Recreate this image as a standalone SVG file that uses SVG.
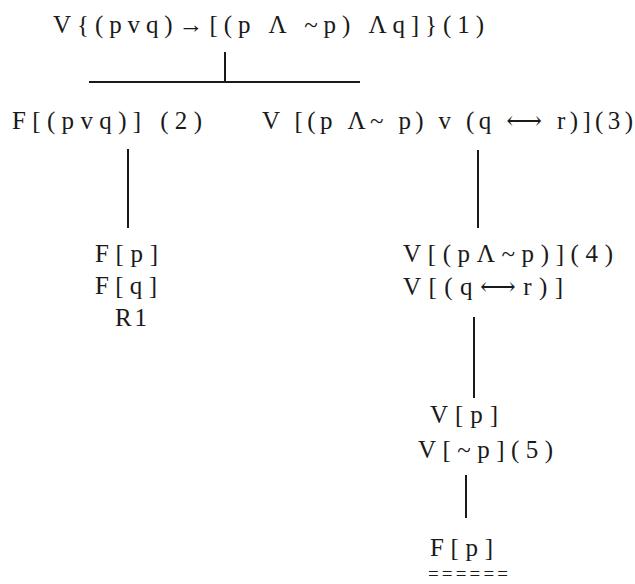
<svg xmlns="http://www.w3.org/2000/svg" width="635" height="584" viewBox="0 0 635 584">
<style>
text{font-family:"Liberation Serif","DejaVu Serif",serif;font-size:25px;fill:#1a1a1a}
.c line{stroke:#1a1a1a;stroke-width:2}
</style>
<rect width="635" height="584" fill="#fff"/>
<g id="n1"><text x="53" y="33" textLength="431" lengthAdjust="spacing">V{(pvq)→[(p Λ ~p) Λq]}(1)</text></g>
<g id="n2"><text x="12" y="129" textLength="190" lengthAdjust="spacing">F[(pvq)] (2)</text></g>
<g id="n3"><text x="262" y="129" textLength="371" lengthAdjust="spacing">V [(p Λ~ p) v (q ⟷ r)](3)</text></g>
<g id="n4">
<text x="95" y="262" textLength="63" lengthAdjust="spacing">F[p]</text>
<text x="95" y="294" textLength="62" lengthAdjust="spacing">F[q]</text>
<text x="115" y="326" textLength="32" lengthAdjust="spacing">R1</text>
</g>
<g id="n5">
<text x="403" y="262" textLength="210" lengthAdjust="spacing">V[(pΛ~p)](4)</text>
<text x="403" y="295" textLength="160" lengthAdjust="spacing">V[(q⟷r)]</text>
</g>
<g id="n6">
<text x="430" y="423" textLength="68" lengthAdjust="spacing">V[p]</text>
<text x="418" y="458" textLength="135" lengthAdjust="spacing">V[~p](5)</text>
</g>
<g id="n7">
<text x="430" y="556" textLength="63" lengthAdjust="spacing">F[p]</text>
<text x="428" y="580" textLength="80" lengthAdjust="spacing" style="font-size:19px">======</text>
</g>
<g id="connectors" class="c">
<line x1="225" y1="52" x2="225" y2="82"/>
<line x1="89" y1="82" x2="360" y2="82"/>
<line x1="128" y1="149" x2="128" y2="228"/>
<line x1="478" y1="150" x2="478" y2="228"/>
<line x1="474" y1="317" x2="474" y2="398"/>
<line x1="466" y1="475" x2="466" y2="518"/>
</g>
</svg>
